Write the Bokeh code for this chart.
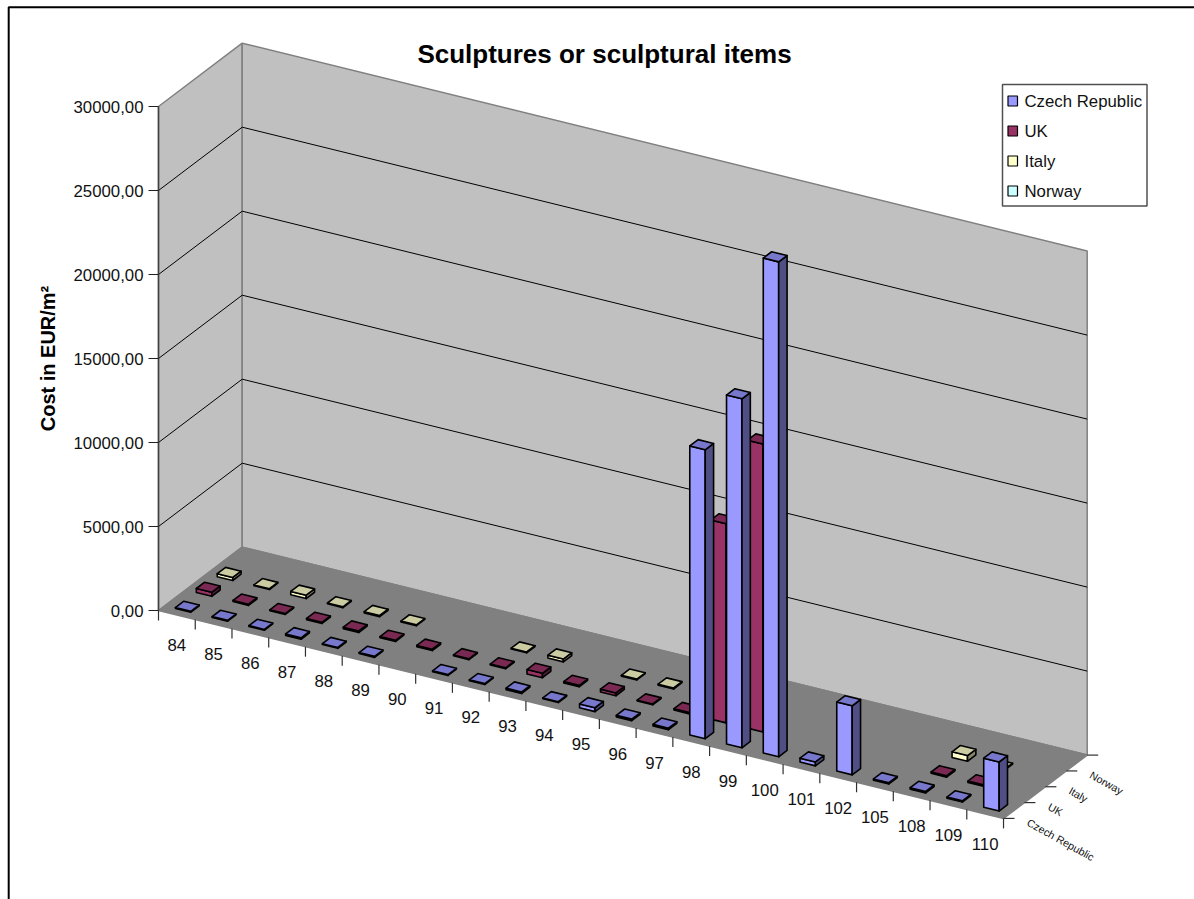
from bokeh.core.properties import value
from bokeh.embed import file_html
from bokeh.models import ColumnDataSource, FixedTicker, LinearAxis, Range1d
from bokeh.plotting import figure
from bokeh.resources import INLINE

# Chart content
TITLE = "Sculptures or sculptural items"
Y_TITLE = "Cost in EUR/m²"
categories = ["84", "85", "86", "87", "88", "89", "90", "91", "92", "93", "94", "95",
              "96", "97", "98", "99", "100", "101", "102", "105", "108", "109", "110"]
series_names = ["Czech Republic", "UK", "Italy", "Norway"]
y_ticks = [0, 5000, 10000, 15000, 20000, 25000, 30000]

czech_values = [50, 50, 50, 90, 50, 60, None, 50, 50, 90, 50, 230, 90, 90,
                17200, 20770, 29460, 230, 4110, 70, 90, 70, 2920]
uk_values = [240, 70, 50, 70, 90, 70, 80, 50, 50, 260, 80, 170, 50, 80,
             11850, 17140, None, None, None, None, 80, 80, None]
italy_values = [180, 50, 200, 50, 70, 50, None, None, 50, 170, None, 50, 60, None,
                None, None, None, None, None, None, 340, 50, None]
norway_values = [None] * 23

# Fill colours per series: front face, top face, side face
series_colors = [("#9999FF", "#7777CC", "#4F4F85"),
                 ("#993366", "#7A2952", "#4F1A35"),
                 ("#FFFFCC", "#CCCCA3", "#85856A"),
                 ("#CCFFFF", "#A3CCCC", "#6A8585")]

W, H = 1194, 899

# Oblique projection: pixels per category, per series and per unit of cost
ORIGIN_X, ORIGIN_Y = 158.0, 610.0
CAT_DX, CAT_DY = 36.74, 9.04
SER_DX, SER_DY = 20.92, -15.83
PX_PER_UNIT = 504.0 / 30000.0
BAR_W, BAR_D = 0.42, 0.40


def row(py):
    """Vertical data coordinate (cost scale) of a canvas row."""
    return (ORIGIN_Y - py) / PX_PER_UNIT


def proj(c, s, v=0.0):
    """Project (category, series, cost) onto (canvas x, cost scale)."""
    x = ORIGIN_X + c * CAT_DX + s * SER_DX
    y = ORIGIN_Y + c * CAT_DY + s * SER_DY
    return x, row(y) + v


def poly(points):
    xy = [proj(*pt) for pt in points]
    return [q[0] for q in xy], [q[1] for q in xy]


p = figure(width=W, height=H, output_backend="svg", toolbar_location=None,
           x_range=Range1d(0, W), y_range=Range1d(row(H), row(0)),
           x_axis_type=None, y_axis_type=None, min_border=0,
           outline_line_color=None, background_fill_color="white")
p.grid.visible = False

# Outer chart frame: only its left and top edges fall inside the page
p.line([8.2, 8.2, W], [row(H), row(6.8), row(6.8)], line_color="black", line_width=2)

n_cat, n_ser, v_max = len(categories), len(series_names), y_ticks[-1]

# Left wall, back wall and floor
walls = [poly([(0, 0), (0, n_ser), (0, n_ser, v_max), (0, 0, v_max)]),
         poly([(0, n_ser), (n_cat, n_ser), (n_cat, n_ser, v_max), (0, n_ser, v_max)]),
         poly([(0, 0), (n_cat, 0), (n_cat, n_ser), (0, n_ser)])]
p.patches([w[0] for w in walls], [w[1] for w in walls],
          fill_color=["#C0C0C0", "#C0C0C0", "#808080"], line_color="#808080", line_width=1.5)

# Gridlines run across both walls
for t in y_ticks[1:-1]:
    gx, gy = poly([(0, 0, t), (0, n_ser, t), (n_cat, n_ser, t)])
    p.line(gx, gy, line_color="black", line_width=1)

# Value axis on the front edge of the left wall
axis = LinearAxis(fixed_location=ORIGIN_X, ticker=FixedTicker(ticks=y_ticks),
                  bounds=(0, v_max),
                  major_label_overrides={t: f"{t},00" for t in y_ticks},
                  major_tick_in=0, major_tick_out=10, minor_tick_line_color=None,
                  axis_line_color="#404040", axis_line_width=1.5,
                  major_tick_line_color="#202020",
                  major_label_text_font="Liberation Sans",
                  major_label_text_font_size="16.8px",
                  major_label_text_color="#111111", major_label_standoff=5)
p.add_layout(axis, "left")

# Category and series tick marks under the floor
tx, ty = [], []
for c in range(n_cat + 1):
    x0, y0 = proj(c, 0)
    tx.append([x0, x0])
    ty.append([y0, y0 - 10 / PX_PER_UNIT])
for s in range(n_ser + 1):
    x0, y0 = proj(n_cat, s)
    tx.append([x0, x0 + 11])
    ty.append([y0, y0])
p.multi_line(tx, ty, line_color="#303030", line_width=1.2)

# Bars, back row first and left to right in each row
all_values = [czech_values, uk_values, italy_values, norway_values]
bars = {"xs": [], "ys": [], "fill": []}
for s in reversed(range(n_ser)):
    front, top, side = series_colors[s]
    for c, v in enumerate(all_values[s]):
        if v is None:
            continue
        c0, c1 = c + 0.5 - BAR_W / 2, c + 0.5 + BAR_W / 2
        s0, s1 = s + 0.5 - BAR_D / 2, s + 0.5 + BAR_D / 2
        faces = [(poly([(c0, s0), (c1, s0), (c1, s0, v), (c0, s0, v)]), front),
                 (poly([(c1, s0), (c1, s1), (c1, s1, v), (c1, s0, v)]), side),
                 (poly([(c0, s0, v), (c1, s0, v), (c1, s1, v), (c0, s1, v)]), top)]
        for (fx, fy), col in faces:
            bars["xs"].append(fx)
            bars["ys"].append(fy)
            bars["fill"].append(col)
p.patches("xs", "ys", fill_color="fill", line_color="black", line_width=1.6,
          line_join="round", source=ColumnDataSource(bars))

TEXT = "#111111"
FONT = value("Liberation Sans")

# Category labels
lab = [proj(c + 0.5, 0) for c in range(n_cat)]
p.text([q[0] for q in lab], [q[1] - 30 / PX_PER_UNIT for q in lab], text=categories,
       text_font=FONT, text_font_size="16.8px", text_color=TEXT,
       text_align="center", text_baseline="middle")

# Series labels along the depth axis
lab = [proj(n_cat, s + 0.5) for s in range(n_ser)]
p.text([q[0] + 14 for q in lab], [q[1] - 11 / PX_PER_UNIT for q in lab], text=series_names,
       text_font=FONT, text_font_size="10.7px", text_color=TEXT,
       text_align="left", text_baseline="middle", angle=-29, angle_units="deg")

# Titles
p.text([604], [row(53)], text=[TITLE], text_font=FONT, text_font_size="26px",
       text_font_style="bold", text_color="black", text_align="center",
       text_baseline="middle")
p.text([47], [row(358)], text=[Y_TITLE], text_font=FONT, text_font_size="20px",
       text_font_style="bold", text_color="black", text_align="center", text_baseline="middle",
       angle=90, angle_units="deg")

# Legend box
p.patches([[1002, 1146.5, 1146.5, 1002]], [[row(84), row(84), row(205.5), row(205.5)]],
          fill_color="white", line_color="#505050", line_width=1.5)
rows = [100.5, 130.5, 160.5, 190.5]
p.quad(left=[1007.5] * n_ser, right=[1017] * n_ser,
       top=[row(r - 5) for r in rows], bottom=[row(r + 5) for r in rows],
       fill_color=[c[0] for c in series_colors], line_color="black", line_width=1.2)
p.text([1024] * n_ser, [row(r) for r in rows], text=series_names, text_font=FONT,
       text_font_size="16.8px", text_color=TEXT, text_align="left", text_baseline="middle")

open("out.html", "w").write(file_html(p, INLINE))
